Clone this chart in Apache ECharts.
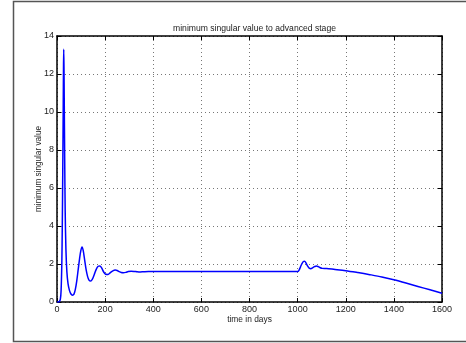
<!DOCTYPE html>
<html><head><meta charset="utf-8">
<script src="https://cdn.jsdelivr.net/npm/echarts@6/dist/echarts.min.js"></script>
<style>html,body{margin:0;padding:0;background:#fff}#c{width:466px;height:343px}</style>
</head><body><div id="c"></div>
<script>
const titleText = "minimum singular value to advanced stage";
const xName = "time in days";
const yName = "minimum singular value";
const xTicks = [0, 200, 400, 600, 800, 1000, 1200, 1400, 1600];
const yTicks = [0, 2, 4, 6, 8, 10, 12, 14];
const days = [0, 5, 10, 14, 17, 20, 22, 24, 26, 27, 28, 29, 30, 32, 34, 37, 41, 46, 52, 58, 64, 70, 76, 82, 88, 94, 99, 104, 109, 115, 121, 127, 133, 140, 147, 155, 163, 171, 178, 186, 194, 202, 212, 222, 232, 242, 250, 258, 267, 276, 286, 296, 308, 320, 333, 346, 360, 380, 400, 500, 600, 700, 800, 900, 1000, 1006, 1012, 1018, 1024, 1029, 1035, 1041, 1048, 1055, 1062, 1070, 1078, 1086, 1094, 1102, 1120, 1150, 1200, 1250, 1300, 1350, 1400, 1450, 1500, 1550, 1600];
const minSingular = [0, 0.0, 0.03, 0.15, 0.6, 2.0, 4.0, 7.0, 10.5, 12.3, 13.3, 12.4, 10.8, 7.5, 4.8, 2.8, 1.6, 0.95, 0.6, 0.42, 0.36, 0.4, 0.65, 1.1, 1.7, 2.3, 2.7, 2.9, 2.7, 2.2, 1.7, 1.35, 1.15, 1.1, 1.2, 1.45, 1.72, 1.88, 1.9, 1.78, 1.58, 1.46, 1.45, 1.55, 1.64, 1.68, 1.66, 1.6, 1.55, 1.54, 1.56, 1.6, 1.62, 1.61, 1.59, 1.58, 1.59, 1.6, 1.6, 1.6, 1.6, 1.6, 1.6, 1.6, 1.6, 1.68, 1.85, 2.02, 2.13, 2.15, 2.05, 1.9, 1.78, 1.75, 1.8, 1.86, 1.9, 1.86, 1.8, 1.77, 1.76, 1.72, 1.65, 1.55, 1.44, 1.32, 1.17, 1.0, 0.82, 0.64, 0.46];

const data = days.map((d, i) => [d, minSingular[i]]);
const FONT = "Liberation Sans, Arial, Helvetica, sans-serif";
const chart = echarts.init(document.getElementById('c'), null, {renderer: 'canvas'});
const dotted = {show: true, lineStyle: {color: '#777', type: [1, 3], width: 1}};
chart.setOption({
  animation: false,
  backgroundColor: '#fff',
  title: {text: titleText, left: 249.5, textAlign: 'center', top: 19,
    textStyle: {fontFamily: FONT, fontSize: 8.6, fontWeight: 'normal', color: '#222'}},
  graphic: [{type: 'rect', shape: {x: 13.5, y: 1.5, width: 470, height: 340},
    style: {fill: 'none', stroke: '#555', lineWidth: 1.5}, silent: true}],
  grid: {left: 57, right: 24, top: 36, bottom: 41, containLabel: false},
  xAxis: [{
    type: 'value', min: 0, max: 1600, interval: 200,
    name: xName, nameLocation: 'middle', nameGap: 13.5, nameMoveOverlap: false,
    nameTextStyle: {fontFamily: FONT, fontSize: 8.4, color: '#222'},
    axisLine: {show: true, onZero: false, lineStyle: {color: '#000', width: 1.5}},
    axisTick: {show: true, inside: true, length: 4, lineStyle: {color: '#000'}},
    axisLabel: {fontFamily: FONT, fontSize: 9, color: '#222', margin: 3,
      formatter: v => xTicks.includes(v) ? String(v) : ''},
    splitLine: dotted
  }, {
    type: 'value', min: 0, max: 1600, interval: 200, position: 'top',
    axisLine: {show: true, onZero: false, lineStyle: {color: '#000', width: 1.5}},
    axisTick: {show: true, inside: true, length: 4, lineStyle: {color: '#000'}},
    axisLabel: {show: false}, splitLine: {show: false}
  }],
  yAxis: [{
    type: 'value', min: 0, max: 14, interval: 2,
    name: yName, nameLocation: 'middle', nameGap: 14, nameRotate: 90, nameMoveOverlap: false,
    nameTextStyle: {fontFamily: FONT, fontSize: 8.2, color: '#222'},
    axisLine: {show: true, onZero: false, lineStyle: {color: '#000', width: 1.5}},
    axisTick: {show: true, inside: true, length: 4, lineStyle: {color: '#000'}},
    axisLabel: {fontFamily: FONT, fontSize: 9, color: '#222', margin: 3,
      formatter: v => yTicks.includes(v) ? String(v) : ''},
    splitLine: dotted
  }, {
    type: 'value', min: 0, max: 14, interval: 2, position: 'right',
    axisLine: {show: true, onZero: false, lineStyle: {color: '#000', width: 1.5}},
    axisTick: {show: true, inside: true, length: 4, lineStyle: {color: '#000'}},
    axisLabel: {show: false}, splitLine: {show: false}
  }],
  series: [{
    type: 'line', data: data, xAxisIndex: 0, yAxisIndex: 0,
    showSymbol: false, smooth: 0.3, clip: true,
    lineStyle: {color: '#0000ff', width: 1.5}
  }]
});
</script></body></html>
